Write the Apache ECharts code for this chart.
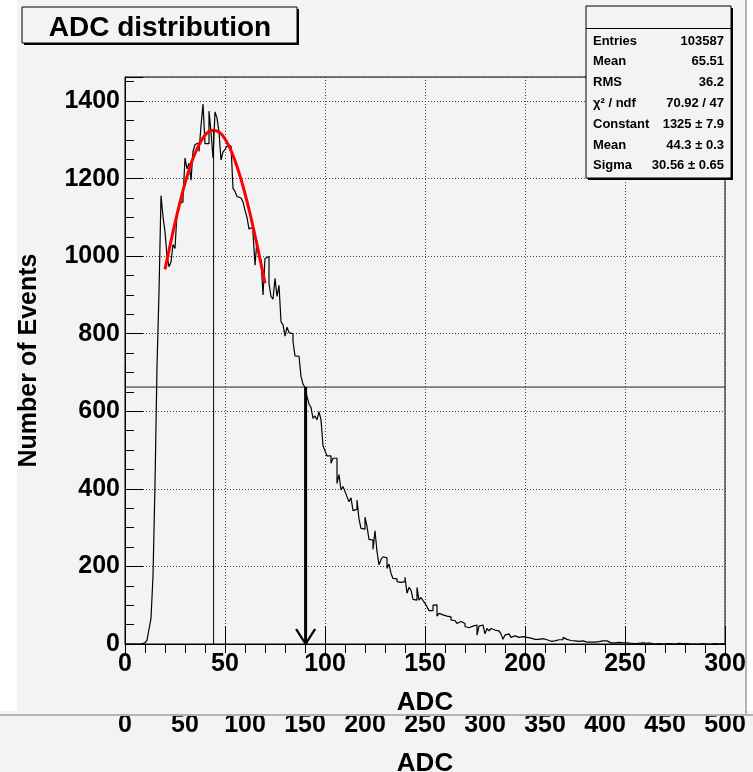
<!DOCTYPE html>
<html lang="en">
<head>
<meta charset="UTF-8">
<title>ADC distribution</title>
<script src="https://cdn.jsdelivr.net/npm/echarts@6/dist/echarts.min.js"></script>
<style>
  body { margin: 0; background: #fff; }
  #main { width: 753px; height: 772px; }
</style>
</head>
<body>
<div id="main"></div>
<script>
// histogram: 300 bins of 1 ADC, counts
const binWidth = 1
const counts = [
  0, 0, 0, 0, 0, 0, 0, 0, 2, 3,
  5, 10, 38, 66, 176, 412, 716, 907, 1156, 1102,
  1063, 1000, 973, 985, 1030, 1020, 1110, 1135, 1140, 1150,
  1253, 1225, 1240, 1196, 1270, 1288, 1292, 1270, 1336, 1392,
  1290, 1290, 1374, 1320, 1253, 1372, 1356, 1320, 1248, 1269,
  1275, 1284, 1284, 1285, 1175, 1167, 1154, 1150, 1148, 1140,
  1118, 1100, 1070, 1075, 1060, 977, 1040, 1000, 990, 900,
  994, 999, 930, 896, 889, 943, 896, 925, 831, 823,
  794, 817, 803, 800, 780, 743, 742, 745, 690, 670,
  662, 638, 619, 610, 582, 588, 578, 599, 578, 511,
  498, 485, 485, 466, 479, 479, 414, 437, 397, 406,
  393, 380, 367, 377, 344, 347, 371, 322, 298, 296,
  327, 303, 270, 268, 244, 292, 238, 204, 218, 225,
  222, 195, 206, 182, 169, 168, 161, 159, 159, 161,
  172, 131, 146, 139, 115, 113, 146, 113, 120, 112,
  105, 96, 86, 86, 100, 101, 72, 79, 75, 76,
  72, 69, 70, 62, 60, 58, 53, 58, 53, 53,
  45, 42, 45, 46, 49, 49, 23, 46, 49, 45,
  26, 40, 34, 40, 36, 32, 34, 36, 26, 12,
  23, 26, 21, 17, 21, 19, 17, 17, 19, 15,
  17, 19, 15, 17, 12, 11, 12, 15, 14, 19,
  11, 9, 7, 9, 8, 8, 11, 9, 11, 17,
  12, 9, 9, 7, 8, 6, 7, 6, 8, 6,
  5, 6, 5, 8, 5, 4, 6, 5, 8, 4,
  8, 4, 3, 4, 3, 3, 4, 2, 3, 2,
  3, 2, 2, 3, 1, 2, 2, 1, 3, 1,
  2, 1, 2, 1, 0, 2, 1, 1, 0, 2,
  1, 0, 1, 1, 0, 1, 2, 0, 1, 0,
  1, 0, 0, 1, 0, 1, 0, 0, 1, 0,
  0, 1, 0, 0, 1, 0, 0, 0, 1, 0
]

// red fit curve, points read along it
const fitX = [20, 22.5, 25, 27.5, 30, 32.5, 35, 37.5, 40, 42.5, 44.3, 47.5, 50, 52.5, 55, 57.5, 60, 62.5, 65, 67.5, 70]
const fitY = [966, 1027, 1085, 1139, 1188, 1230, 1265, 1292, 1312, 1323, 1325, 1318, 1302, 1278, 1246, 1207, 1161, 1110, 1053, 993, 930]

// fit peak position, half maximum and where it is crossed
const peakX = 44.3
const peakY = 1325
const halfY = 662.5
const halfX = 90.3

const xTickLabels = [0, 50, 100, 150, 200, 250, 300]
const yTickLabels = [0, 200, 400, 600, 800, 1000, 1200, 1400]
const x2TickLabels = [0, 50, 100, 150, 200, 250, 300, 350, 400, 450, 500]

const statNames = ['Entries', 'Mean', 'RMS', 'χ² / ndf', 'Constant', 'Mean', 'Sigma']
const statValues = ['103587', '65.51', '36.2', '70.92 / 47', '1325 ± 7.9', '44.3 ± 0.3', '30.56 ± 0.65']

const font = '"Liberation Sans", Arial, Helvetica, sans-serif'
const bg = '#f3f3f3'

const histData = counts.map((c, i) => [i * binWidth, c])
histData.push([counts.length * binWidth, counts[counts.length - 1]])

const fitData = fitX.map((x, i) => [x, fitY[i]])

const element = document.querySelector('#main')
const myChart = echarts.init(element)

const labelStyle = { fontFamily: font, fontWeight: 'bold', fontSize: 25, color: '#000' }

const statsGraphic = []
statNames.forEach((n, i) => {
    const y = 41 + i * 20.8
    statsGraphic.push({
        type: 'text', z: 21,
        style: { x: 593, y: y, text: n, font: 'bold 13px ' + font, fill: '#000',
                 align: 'left', verticalAlign: 'middle', textAlign: 'left', textVerticalAlign: 'middle' }
    })
    statsGraphic.push({
        type: 'text', z: 21,
        style: { x: 724, y: y, text: statValues[i], font: 'bold 13px ' + font, fill: '#000',
                 align: 'right', verticalAlign: 'middle', textAlign: 'right', textVerticalAlign: 'middle' }
    })
})

const option = {
    backgroundColor: '#fff',
    animation: false,
    graphic: [
        // canvas backgrounds
        { type: 'rect', z: -10, shape: { x: 17, y: 0, width: 729, height: 715 }, style: { fill: bg } },
        { type: 'rect', z: -10, shape: { x: 0, y: 715, width: 753, height: 57 }, style: { fill: bg } },
        // upper canvas covers top of the lower axis labels
        { type: 'rect', z: 10, shape: { x: 0, y: 711, width: 753, height: 4 }, style: { fill: bg } },
        { type: 'rect', z: 11, shape: { x: 0, y: 714, width: 753, height: 2 }, style: { fill: '#b4b4b4' } },
        { type: 'rect', z: 11, shape: { x: 745, y: 0, width: 2, height: 715 }, style: { fill: '#b4b4b4' } },
        // title box
        { type: 'rect', z: 19, shape: { x: 24, y: 9, width: 275, height: 36 }, style: { fill: '#000' } },
        { type: 'rect', z: 20, shape: { x: 22, y: 7, width: 275, height: 36 }, style: { fill: bg, stroke: '#000', lineWidth: 1 } },
        {
            type: 'text', z: 21,
            style: { x: 160, y: 28, text: 'ADC distribution', font: 'bold 28px ' + font, fill: '#000',
                     align: 'center', verticalAlign: 'middle', textAlign: 'center', textVerticalAlign: 'middle' }
        },
        // stats box
        { type: 'rect', z: 19, shape: { x: 588, y: 8, width: 145, height: 172 }, style: { fill: '#000' } },
        { type: 'rect', z: 20, shape: { x: 586, y: 6, width: 145, height: 172 }, style: { fill: bg, stroke: '#000', lineWidth: 1 } },
        { type: 'line', z: 21, shape: { x1: 586, y1: 28.5, x2: 731, y2: 28.5 }, style: { stroke: '#000', lineWidth: 1 } },
        ...statsGraphic
    ],
    grid: [
        { left: 125, top: 77, width: 600, height: 567, show: true, borderColor: '#000', borderWidth: 1, backgroundColor: 'transparent', containLabel: false },
        { left: 125, top: 716, width: 600, height: 1, show: false, containLabel: false }
    ],
    xAxis: [
        {
            type: 'value', gridIndex: 0, min: 0, max: 300, interval: 50, z: 3,
            axisLine: { lineStyle: { color: '#000', width: 1 } },
            axisTick: { inside: true, length: 18, lineStyle: { color: '#000' } },
            splitLine: { show: true, lineStyle: { color: '#444', width: 1, type: [1, 2] } },
            axisLabel: Object.assign({ margin: 8, formatter: v => xTickLabels.includes(v) ? String(v) : '' }, labelStyle),
            name: 'ADC', nameLocation: 'middle', nameGap: 46,
            nameTextStyle: { fontFamily: font, fontWeight: 'bold', fontSize: 26, color: '#000' }
        },
        {
            type: 'value', gridIndex: 0, min: 0, max: 300, interval: 10, z: 3,
            axisLine: { show: false },
            axisTick: { inside: true, length: 9, lineStyle: { color: '#000' } },
            splitLine: { show: false },
            axisLabel: { show: false }
        },
        {
            type: 'value', gridIndex: 1, min: 0, max: 500, interval: 50,
            axisLine: { show: false }, axisTick: { show: false }, splitLine: { show: false },
            axisLabel: Object.assign({ margin: -4, formatter: v => x2TickLabels.includes(v) ? String(v) : '' }, labelStyle),
            name: 'ADC', nameLocation: 'middle', nameGap: 35,
            nameTextStyle: { fontFamily: font, fontWeight: 'bold', fontSize: 26, color: '#000' }
        }
    ],
    yAxis: [
        {
            type: 'value', gridIndex: 0, min: 0, max: 1462, interval: 200, z: 3,
            axisLine: { show: true, lineStyle: { color: '#000', width: 1 } },
            axisTick: { show: true, inside: true, length: 18, lineStyle: { color: '#000' } },
            splitLine: { show: true, lineStyle: { color: '#444', width: 1, type: [1, 2] } },
            axisLabel: Object.assign({ margin: 5, formatter: v => yTickLabels.includes(v) ? String(v) : '' }, labelStyle),
            name: 'Number of Events', nameLocation: 'middle', nameGap: 83, nameRotate: 90,
            nameTextStyle: { fontFamily: font, fontWeight: 'bold', fontSize: 25, color: '#000' }
        },
        {
            type: 'value', gridIndex: 0, min: 0, max: 1462, interval: 50, position: 'left', z: 3,
            axisLine: { show: false },
            axisTick: { show: true, inside: true, length: 9, lineStyle: { color: '#000' } },
            splitLine: { show: false },
            axisLabel: { show: false }
        },
        {
            type: 'value', gridIndex: 1, min: 0, max: 1, show: false
        }
    ],
    series: [
        {
            name: 'ADC', type: 'line', step: 'end', xAxisIndex: 0, yAxisIndex: 0,
            data: histData, symbol: 'none', z: 3,
            lineStyle: { color: '#000', width: 1.2 }
        },
        {
            name: 'fit', type: 'line', xAxisIndex: 0, yAxisIndex: 0,
            data: fitData, smooth: true, symbol: 'none', z: 4,
            lineStyle: { color: '#ff0000', width: 3 }
        },
        {
            name: 'peak', type: 'line', xAxisIndex: 0, yAxisIndex: 0,
            data: [[peakX, 0], [peakX, peakY]], symbol: 'none', z: 4,
            lineStyle: { color: '#000', width: 1 }
        },
        {
            name: 'half', type: 'line', xAxisIndex: 0, yAxisIndex: 0,
            data: [[0, halfY], [300, halfY]], symbol: 'none', z: 4,
            lineStyle: { color: '#222', width: 1 }
        },
        {
            name: 'arrow', type: 'line', xAxisIndex: 0, yAxisIndex: 0, z: 5,
            data: [{ value: [halfX, halfY], symbol: 'none' }, { value: [halfX, 0] }],
            showSymbol: true,
            symbol: 'path://M0,0 L10,14 L20,0',
            symbolSize: [19, 15], symbolOffset: [0, -7.5], symbolKeepAspect: false,
            itemStyle: { color: 'rgba(0,0,0,0)', borderColor: '#000', borderWidth: 2 },
            lineStyle: { color: '#000', width: 3 }
        }
    ]
}

myChart.setOption(option)
</script>
</body>
</html>
